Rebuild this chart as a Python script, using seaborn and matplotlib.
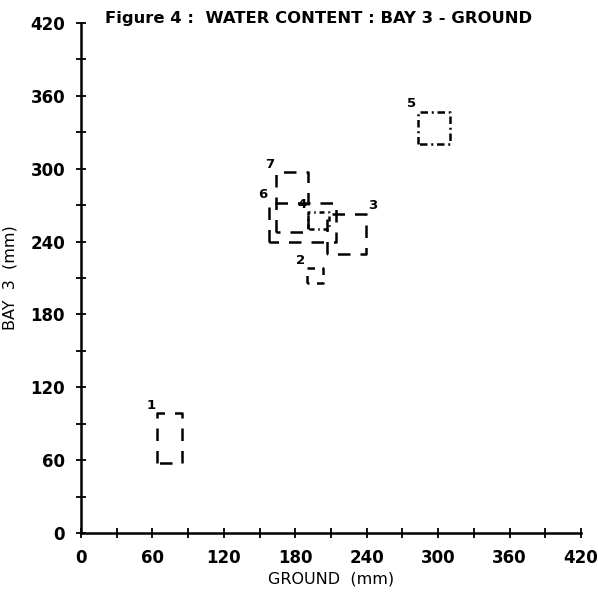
import numpy as np
import pandas as pd
import matplotlib
matplotlib.use("Agg")
import matplotlib.pyplot as plt
import seaborn as sns

# Data: ranges of water content (mm) per case
case_ids = ["1", "2", "3", "4", "5", "6", "7"]
ground_min = [64, 190, 207, 191, 283, 158, 164]
ground_max = [85, 203, 239, 208, 310, 214, 191]
bay3_min = [58, 206, 230, 250, 320, 240, 248]
bay3_max = [99, 218, 263, 264, 347, 272, 297]

x_ticks = [0, 60, 120, 180, 240, 300, 360, 420]
y_ticks = [0, 60, 120, 180, 240, 300, 360, 420]

sns.set_style("ticks")
plt.rcParams["font.family"] = ["DejaVu Sans"]
plt.rcParams["text.color"] = "black"
plt.rcParams["axes.labelcolor"] = "black"
plt.rcParams["xtick.color"] = "black"
plt.rcParams["ytick.color"] = "black"

rows = []
for cid, x0, x1, y0, y1 in zip(case_ids, ground_min, ground_max, bay3_min, bay3_max):
    corners = [(x0, y0), (x0, y1), (x1, y1), (x1, y0), (x0, y0)]
    for k, (cx, cy) in enumerate(corners):
        rows.append({"case": cid, "order": k, "ground": cx, "bay3": cy})
df = pd.DataFrame(rows)

dash_styles = {
    "1": (5, 4),
    "2": (3, 3),
    "3": (5, 4),
    "4": (2, 1.5, 0.6, 1.5),
    "5": (3, 1.5, 0.8, 1.5),
    "6": (5, 4),
    "7": (5, 4),
}

fig = plt.figure(figsize=(5.98, 5.93), dpi=100)
ax = fig.add_axes([81 / 598, 60 / 593, 500 / 598, 510 / 593])

sns.lineplot(data=df, x="ground", y="bay3", units="case", estimator=None,
             sort=False, style="case", dashes=dash_styles, color="black",
             linewidth=1.8, legend=False, ax=ax)

for cid, x0, x1, y1 in zip(case_ids, ground_min, ground_max, bay3_max):
    if cid == "3":
        ax.text(x1 + 2, y1 + 1, cid, fontsize=9.5, fontweight="bold",
                ha="left", va="bottom")
    else:
        ax.text(x0 - 1.5, y1 + 1, cid, fontsize=9.5, fontweight="bold",
                ha="right", va="bottom")

ax.set_xlim(0, 420)
ax.set_ylim(0, 420)
ax.set_xticks(np.arange(0, 421, 30))
ax.set_yticks(np.arange(0, 421, 30))
ax.set_xticklabels([str(v) if v in x_ticks else "" for v in range(0, 421, 30)])
ax.set_yticklabels([str(v) if v in y_ticks else "" for v in range(0, 421, 30)])
ax.tick_params(axis="both", direction="inout", length=7, width=1.3,
               labelsize=12, colors="black")
ax.tick_params(axis="x", pad=8)
ax.tick_params(axis="y", pad=8)
for lab in ax.get_xticklabels() + ax.get_yticklabels():
    lab.set_fontweight("bold")

ax.spines["top"].set_visible(False)
ax.spines["right"].set_visible(False)
for s in ["left", "bottom"]:
    ax.spines[s].set_linewidth(1.8)
    ax.spines[s].set_color("black")

ax.set_xlabel("GROUND  (mm)", fontsize=11.5, labelpad=3)
ax.set_ylabel("BAY  3  (mm)", fontsize=11.5, labelpad=9)

fig.text(105 / 598, 1 - 18 / 593, "Figure 4 :  WATER CONTENT : BAY 3 - GROUND",
         fontsize=11.8, fontweight="bold", ha="left", va="center")

fig.savefig("out.png", dpi=100)
